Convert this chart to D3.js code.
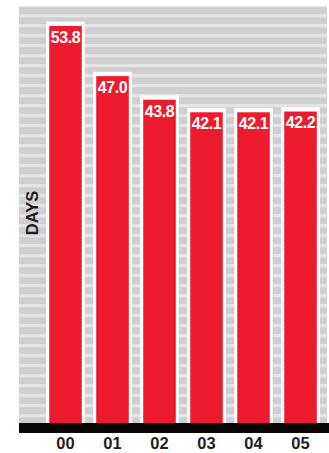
<!DOCTYPE html>
<html>
<head>
<meta charset="utf-8">
<script src="https://cdn.jsdelivr.net/npm/d3@7"></script>
<style>
  html, body { margin: 0; padding: 0; background: #fff; }
  svg { display: block; }
  text { font-family: "Liberation Sans", Arial, Helvetica, sans-serif; font-weight: bold; }
</style>
</head>
<body>
<script>
// Average days, by year
const years = ["00", "01", "02", "03", "04", "05"];
const days = [53.8, 47.0, 43.8, 42.1, 42.1, 42.2];
const axisLabel = "DAYS";

const W = 329, H = 453;
const panel = { left: 19, right: 327, top: 6, bottom: 423 };

const svg = d3.select("body").append("svg")
  .attr("width", W).attr("height", H);

// striped panel background
const defs = svg.append("defs");
const pat = defs.append("pattern")
  .attr("id", "stripes")
  .attr("patternUnits", "userSpaceOnUse")
  .attr("width", 10).attr("height", 10);
pat.append("rect").attr("width", 10).attr("height", 10).attr("fill", "#cfcfd1");
pat.append("rect").attr("y", 4).attr("width", 10).attr("height", 3.3).attr("fill", "#e4e4e6");

svg.append("rect")
  .attr("x", panel.left).attr("y", panel.top)
  .attr("width", panel.right - panel.left)
  .attr("height", panel.bottom - panel.top)
  .attr("fill", "url(#stripes)");

const x = d3.scaleBand().domain(years).range([42, 324]).padding(0);
const y = d3.scaleLinear().domain([0, 56.5]).range([panel.bottom, panel.top]);

const outerW = x.bandwidth() * 0.82;
const side = 3, topPad = 4.3;

const bars = svg.append("g").selectAll("g")
  .data(years.map((yr, i) => ({ yr, v: days[i] })))
  .join("g");

// white frame
bars.append("rect")
  .attr("x", d => x(d.yr) + (x.bandwidth() - outerW) / 2)
  .attr("y", d => y(d.v) - topPad)
  .attr("width", outerW)
  .attr("height", d => panel.bottom - y(d.v) + topPad)
  .attr("fill", "#fff");

// red bar
bars.append("rect")
  .attr("x", d => x(d.yr) + (x.bandwidth() - outerW) / 2 + side)
  .attr("y", d => y(d.v))
  .attr("width", outerW - 2 * side)
  .attr("height", d => panel.bottom - y(d.v))
  .attr("fill", "#ed1b2e");

// value labels
bars.append("text")
  .attr("x", d => x(d.yr) + x.bandwidth() / 2)
  .attr("y", d => y(d.v) + 16.8)
  .attr("text-anchor", "middle")
  .attr("font-size", 16)
  .attr("letter-spacing", -0.4)
  .attr("fill", "#fff")
  .text(d => d.v.toFixed(1));

// baseline bar
svg.append("rect")
  .attr("x", panel.left).attr("y", panel.bottom)
  .attr("width", W - panel.left).attr("height", 10)
  .attr("fill", "#0b0707");

// year tick labels
const axis = d3.axisBottom(x).tickSize(0).tickPadding(0);
const gAxis = svg.append("g")
  .attr("transform", `translate(0,${panel.bottom + 26})`)
  .call(axis);
gAxis.select(".domain").remove();
gAxis.selectAll("text")
  .attr("dy", 0)
  .attr("y", 0)
  .attr("font-size", 16.5)
  .attr("font-family", "'Liberation Sans', Arial, sans-serif")
  .attr("font-weight", "bold")
  .attr("fill", "#231f20");

// axis title
svg.append("text")
  .attr("transform", `translate(37.5,213) rotate(-90)`)
  .attr("text-anchor", "middle")
  .attr("font-size", 16.5)
  .attr("fill", "#231f20")
  .text(axisLabel);
</script>
</body>
</html>
